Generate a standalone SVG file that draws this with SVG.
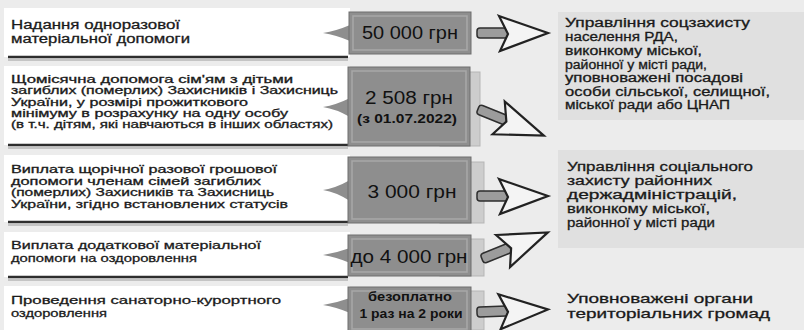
<svg xmlns="http://www.w3.org/2000/svg" width="804" height="330" viewBox="0 0 804 330">
<style>
.lt{font-family:"Liberation Sans","DejaVu Sans",sans-serif;fill:#1a1a1a;stroke:#1a1a1a;stroke-width:0.3;}
.bt{font-family:"Liberation Sans","DejaVu Sans",sans-serif;fill:#111;text-anchor:middle;}
.rt{font-family:"Liberation Sans","DejaVu Sans",sans-serif;fill:#1a1a1a;stroke:#1a1a1a;stroke-width:0.3;}
.panel{fill:#ffffff;}
.uline{stroke:#2e2e2e;stroke-width:2.5;}
.ushadow{stroke:#c4c4c4;stroke-width:2;}
.box{fill:#8e8e8e;stroke:#6e6e6e;stroke-width:1;}
.boxin{fill:none;stroke:#a8a8a8;stroke-width:1.5;}
.strip{fill:#cdcdcd;stroke:#b5b5b5;stroke-width:1;}
.ptr{fill:#8e8e8e;}
.rpanel{fill:#e0e0e0;}
.shaft{fill:#9c9c9c;stroke:#2e2e2e;stroke-width:1.5;}
.head{fill:#f4f4f4;stroke:#222;stroke-width:2.2;stroke-linejoin:miter;}
</style>
<defs>
<g id="arrow">
<rect class="shaft" x="0" y="-5" width="32" height="10" rx="3"/>
<polygon class="head" points="22,-17 71,0 23,18 31,1"/>
</g>
</defs>
<rect x="0" y="0" width="804" height="330" fill="#ececec"/>

<g id="right-panels">
<rect class="rpanel" x="558" y="12" width="246" height="108"/>
<rect class="rpanel" x="558" y="150" width="246" height="98"/>
</g>

<g id="row1-text">
<rect class="panel" x="4" y="8" width="346" height="49"/>
<text class="lt" font-size="12.5"><tspan x="11" y="29" textLength="169" lengthAdjust="spacingAndGlyphs">Надання одноразової</tspan><tspan x="11" y="43" textLength="179" lengthAdjust="spacingAndGlyphs">матеріальної допомоги</tspan></text>
<line class="ushadow" x1="8" y1="60" x2="348" y2="60"/>
<line class="uline" x1="8" y1="57" x2="348" y2="57"/>
</g>

<g id="row2-text">
<rect class="panel" x="4" y="66" width="346" height="79"/>
<text class="lt" font-size="10"><tspan x="11" y="83" textLength="282" lengthAdjust="spacingAndGlyphs">Щомісячна допомога сім'ям з дітьми</tspan><tspan x="11" y="94.3" textLength="327" lengthAdjust="spacingAndGlyphs">загиблих (померлих) Захисників і Захисниць</tspan><tspan x="11" y="105.6" textLength="237" lengthAdjust="spacingAndGlyphs">України, у розмірі прожиткового</tspan><tspan x="11" y="117" textLength="277" lengthAdjust="spacingAndGlyphs">мінімуму в розрахунку на одну особу</tspan><tspan x="11" y="128.3" textLength="322" lengthAdjust="spacingAndGlyphs">(в т.ч. дітям, які навчаються в інших областях)</tspan></text>
<line class="ushadow" x1="8" y1="148" x2="348" y2="148"/>
<line class="uline" x1="8" y1="145" x2="348" y2="145"/>
</g>

<g id="row3-text">
<rect class="panel" x="4" y="155" width="346" height="67"/>
<text class="lt" font-size="10.3"><tspan x="11" y="173" textLength="266" lengthAdjust="spacingAndGlyphs">Виплата щорічної разової грошової</tspan><tspan x="11" y="184.6" textLength="250" lengthAdjust="spacingAndGlyphs">допомоги членам сімей загиблих</tspan><tspan x="11" y="196.2" textLength="263" lengthAdjust="spacingAndGlyphs">(померлих) Захисників та Захисниць</tspan><tspan x="11" y="207.8" textLength="277" lengthAdjust="spacingAndGlyphs">України, згідно встановлених статусів</tspan></text>
<line class="ushadow" x1="8" y1="225" x2="348" y2="225"/>
<line class="uline" x1="8" y1="222" x2="348" y2="222"/>
</g>

<g id="row4-text">
<rect class="panel" x="4" y="232" width="346" height="45"/>
<text class="lt" font-size="11.6"><tspan x="11" y="249" textLength="250" lengthAdjust="spacingAndGlyphs">Виплата додаткової матеріальної</tspan><tspan x="11" y="262" textLength="186" lengthAdjust="spacingAndGlyphs">допомоги на оздоровлення</tspan></text>
<line class="ushadow" x1="8" y1="280" x2="348" y2="280"/>
<line class="uline" x1="8" y1="277" x2="348" y2="277"/>
</g>

<g id="row5-text">
<rect class="panel" x="4" y="286" width="346" height="44"/>
<text class="lt" font-size="11.6"><tspan x="11" y="304" textLength="270" lengthAdjust="spacingAndGlyphs">Проведення санаторно-курортного</tspan><tspan x="11" y="317" textLength="96" lengthAdjust="spacingAndGlyphs">оздоровлення</tspan></text>
</g>

<g id="box1">
<path class="ptr" d="M350,25 Q336,31 323,33 Q336,35 350,41 Z"/>
<rect class="box" x="349" y="12" width="122" height="42"/>
<rect class="boxin" x="353" y="16" width="114" height="34"/>
<text class="bt" x="410" y="39" font-size="18" textLength="96" lengthAdjust="spacingAndGlyphs">50 000 грн</text>
</g>

<g id="box2">
<rect class="strip" x="440" y="72" width="40" height="74"/>
<path class="ptr" d="M350,98 Q336,105 323,107 Q336,109 350,117 Z"/>
<rect class="box" x="348" y="67" width="122" height="79"/>
<rect class="boxin" x="352" y="71" width="114" height="71"/>
<text class="bt" x="409" y="104" font-size="18" textLength="88" lengthAdjust="spacingAndGlyphs">2 508 грн</text>
<text class="bt" x="407" y="123" font-size="13" font-weight="bold" textLength="100" lengthAdjust="spacingAndGlyphs">(з 01.07.2022)</text>
</g>

<g id="box3">
<rect class="strip" x="440" y="162" width="44" height="61"/>
<path class="ptr" d="M350,180 Q336,188 323,190 Q336,192 350,201 Z"/>
<rect class="box" x="348" y="157" width="123" height="66"/>
<rect class="boxin" x="352" y="161" width="115" height="58"/>
<text class="bt" x="412" y="198" font-size="18" textLength="89" lengthAdjust="spacingAndGlyphs">3 000 грн</text>
</g>

<g id="box4">
<rect class="strip" x="440" y="239" width="44" height="37"/>
<path class="ptr" d="M350,248 Q336,253 323,255 Q336,257 350,263 Z"/>
<rect class="box" x="348" y="235" width="123" height="41"/>
<rect class="boxin" x="352" y="239" width="115" height="33"/>
<text class="bt" x="409" y="263" font-size="18" textLength="117" lengthAdjust="spacingAndGlyphs">до 4 000 грн</text>
</g>

<g id="box5">
<rect class="strip" x="440" y="291" width="44" height="39"/>
<path class="ptr" d="M350,298 Q336,303 323,305 Q336,307 350,313 Z"/>
<rect class="box" x="348" y="287" width="123" height="46"/>
<rect class="boxin" x="352" y="291" width="115" height="38"/>
<text class="bt" x="410" y="301" font-size="13.5" font-weight="bold" textLength="84" lengthAdjust="spacingAndGlyphs">безоплатно</text>
<text class="bt" x="411" y="318" font-size="13.5" font-weight="bold" textLength="103" lengthAdjust="spacingAndGlyphs">1 раз на 2 роки</text>
</g>

<g id="connectors">
<use href="#arrow" transform="translate(477,33)"/>
<use href="#arrow" transform="translate(478,109) rotate(22)"/>
<use href="#arrow" transform="translate(477,196)"/>
<use href="#arrow" transform="translate(482,259) rotate(-22)"/>
<use href="#arrow" transform="translate(477,312) rotate(-2)"/>
</g>

<g id="target1">
<text class="rt"><tspan x="565" y="27" font-size="12.5" textLength="185" lengthAdjust="spacingAndGlyphs">Управління соцзахисту</tspan><tspan x="565" y="41" font-size="12.5" textLength="113" lengthAdjust="spacingAndGlyphs">населення РДА,</tspan><tspan x="565" y="55" font-size="12" textLength="137" lengthAdjust="spacingAndGlyphs">виконкому міської,</tspan><tspan x="565" y="68.5" font-size="12" textLength="142" lengthAdjust="spacingAndGlyphs">районної у місті ради,</tspan><tspan x="565" y="82" font-size="12" textLength="178" lengthAdjust="spacingAndGlyphs">уповноважені посадові</tspan><tspan x="565" y="95.5" font-size="12" textLength="205" lengthAdjust="spacingAndGlyphs">особи сільської, селищної,</tspan><tspan x="565" y="109" font-size="12" textLength="165" lengthAdjust="spacingAndGlyphs">міської ради або ЦНАП</tspan></text>
</g>

<g id="target2">
<text class="rt" font-size="12.5"><tspan x="567" y="171" textLength="186" lengthAdjust="spacingAndGlyphs">Управління соціального</tspan><tspan x="567" y="185" textLength="145" lengthAdjust="spacingAndGlyphs">захисту районних</tspan><tspan x="567" y="199" textLength="170" lengthAdjust="spacingAndGlyphs">держадміністрацій,</tspan><tspan x="567" y="213" textLength="143" lengthAdjust="spacingAndGlyphs">виконкому міської,</tspan><tspan x="567" y="227" textLength="148" lengthAdjust="spacingAndGlyphs">районної у місті ради</tspan></text>
</g>

<g id="target3">
<text class="rt" font-size="13.4"><tspan x="567" y="303" textLength="186" lengthAdjust="spacingAndGlyphs">Уповноважені органи</tspan><tspan x="567" y="318" textLength="203" lengthAdjust="spacingAndGlyphs">територіальних громад</tspan></text>
</g>
</svg>
